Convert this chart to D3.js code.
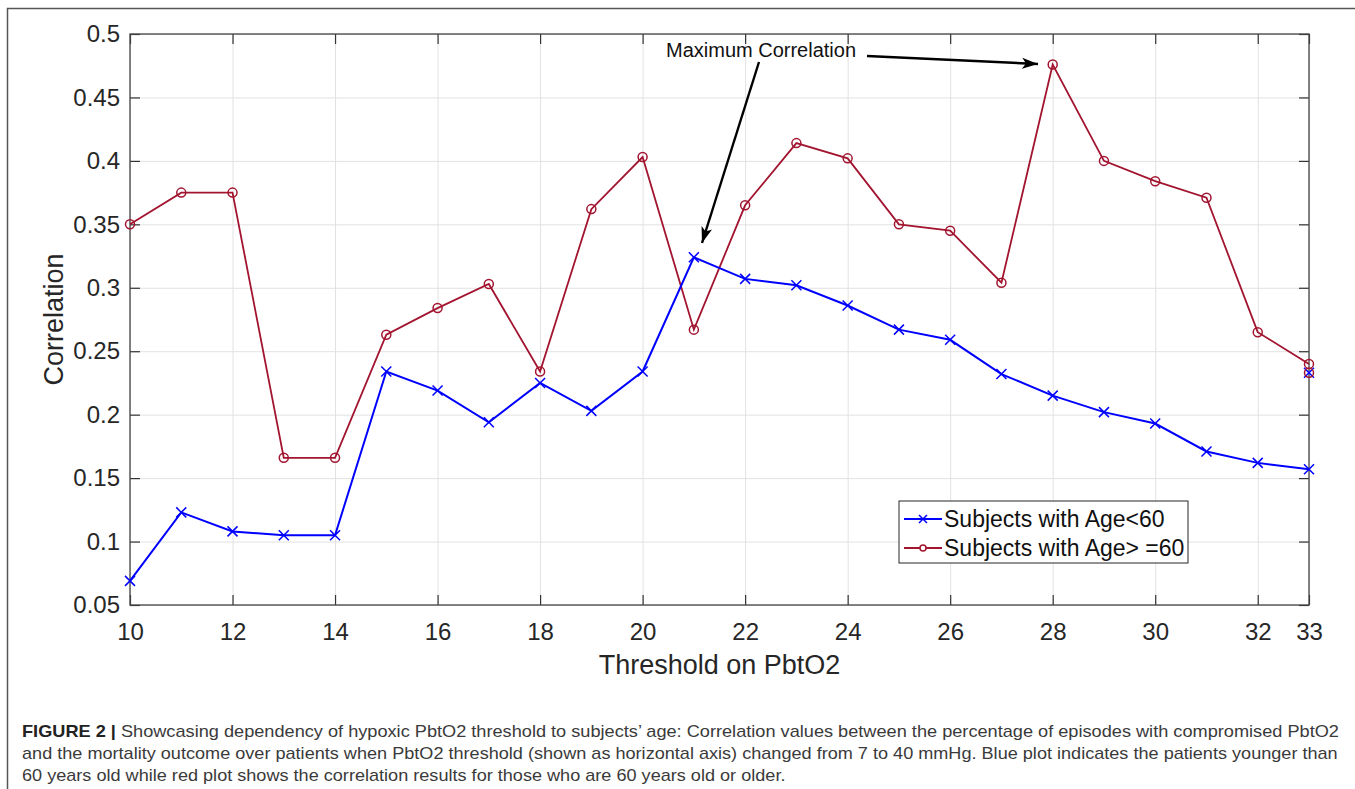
<!DOCTYPE html>
<html>

<head>
    <title>PbtO2 threshold vs correlation</title>
    <script src="https://d3js.org/d3.v7.min.js"></script>
    <style>
        body {
            margin: 0;
            background-color: #ffffff;
        }
        svg {
            display: block;
        }
        text {
            font-family: "Liberation Sans", Arial, Helvetica, sans-serif;
        }
    </style>
</head>

<body>
    <svg id="chart"></svg>
    <script>
        // values
        const thresholds = [10, 11, 12, 13, 14, 15, 16, 17, 18, 19, 20, 21, 22, 23, 24, 25, 26, 27, 28, 29, 30, 31, 32, 33];
        const ageUnder60 = [0.069, 0.123, 0.108, 0.105, 0.105, 0.234, 0.219, 0.194, 0.225, 0.203, 0.234, 0.324,
            0.307, 0.302, 0.286, 0.267, 0.259, 0.232, 0.215, 0.202, 0.193, 0.171, 0.162, 0.157];
        const age60Plus = [0.350, 0.375, 0.375, 0.166, 0.166, 0.263, 0.284, 0.303, 0.234, 0.362, 0.403, 0.267,
            0.365, 0.414, 0.402, 0.350, 0.345, 0.304, 0.476, 0.400, 0.384, 0.371, 0.265, 0.240];
        // lone marker pair sitting on the right edge
        const strayX = [33];
        const strayY = [0.233];

        const xTicks = [10, 12, 14, 16, 18, 20, 22, 24, 26, 28, 30, 32, 33];
        const yTicks = [0.05, 0.1, 0.15, 0.2, 0.25, 0.3, 0.35, 0.4, 0.45, 0.5];
        const yTickLabels = ["0.05", "0.1", "0.15", "0.2", "0.25", "0.3", "0.35", "0.4", "0.45", "0.5"];

        const seriesNames = ["Subjects with Age<60", "Subjects with Age> =60"];
        const seriesColors = ["#0000ff", "#a2142f"];

        const annotationText = "Maximum Correlation";
        const captionBold = "FIGURE 2 | ";
        const captionLines = [
            "Showcasing dependency of hypoxic PbtO2 threshold to subjects\u2019 age: Correlation values between the percentage of episodes with compromised PbtO2",
            "and the mortality outcome over patients when PbtO2 threshold (shown as horizontal axis) changed from 7 to 40 mmHg. Blue plot indicates the patients younger than",
            "60 years old while red plot shows the correlation results for those who are 60 years old or older."
        ];

        let svgWidth = 1355, svgHeight = 789;
        let margin = { left: 130, top: 34, right: 46, bottom: 184 };
        let width = svgWidth - margin.left - margin.right;
        let height = svgHeight - margin.top - margin.bottom;

        let svg = d3.select("#chart")
            .attr("width", svgWidth)
            .attr("height", svgHeight);

        svg.append("rect").attr("width", svgWidth).attr("height", svgHeight).attr("fill", "#fff");

        // outer figure frame (only top and left are in view)
        svg.append("path")
            .attr("d", "M7.5," + svgHeight + "V8.5H" + svgWidth)
            .attr("fill", "none")
            .attr("stroke", "#555")
            .attr("stroke-width", 1.5);

        let x = d3.scaleLinear().domain([10, 33]).range([0, width]);
        let y = d3.scaleLinear().domain([0.05, 0.5]).range([height, 0]);

        let g = svg.append("g").attr("transform", "translate(" + margin.left + "," + margin.top + ")");

        // grid
        g.append("g")
            .attr("class", "grid")
            .attr("transform", "translate(0," + height + ")")
            .call(d3.axisBottom(x).tickValues(xTicks).tickSize(-height).tickFormat(""));
        g.append("g")
            .attr("class", "grid")
            .call(d3.axisLeft(y).tickValues(yTicks).tickSize(-width).tickFormat(""));
        g.selectAll(".grid line").attr("stroke", "#e2e2e2").attr("stroke-width", 1);
        g.selectAll(".grid .domain").remove();

        // axes with inward ticks
        let xAxis = g.append("g")
            .attr("transform", "translate(0," + height + ")")
            .call(d3.axisBottom(x).tickValues(xTicks).tickSize(-10).tickPadding(18).tickFormat(d3.format("d")));
        let yAxis = g.append("g")
            .call(d3.axisLeft(y).tickValues(yTicks).tickSize(-10).tickPadding(10)
                .tickFormat(function (d, i) { return yTickLabels[i]; }));
        g.append("g")
            .call(d3.axisTop(x).tickValues(xTicks).tickSize(-10).tickFormat(""));
        g.append("g")
            .attr("transform", "translate(" + width + ",0)")
            .call(d3.axisRight(y).tickValues(yTicks).tickSize(-10).tickFormat(""));

        g.selectAll(".domain").remove();
        g.selectAll(".tick line").filter(function () { return !this.parentNode.parentNode.classList.contains("grid"); })
            .attr("stroke", "#333").attr("stroke-width", 1.2);
        g.selectAll(".tick text")
            .attr("font-family", "Liberation Sans, Arial, sans-serif")
            .attr("font-size", 24)
            .attr("fill", "#262626");

        g.append("rect")
            .attr("width", width)
            .attr("height", height)
            .attr("fill", "none")
            .attr("stroke", "#444")
            .attr("stroke-width", 1.3);

        // axis titles
        svg.append("text")
            .attr("x", margin.left + width / 2)
            .attr("y", 674)
            .attr("text-anchor", "middle")
            .attr("font-size", 27)
            .attr("fill", "#262626")
            .text("Threshold on PbtO2");
        svg.append("text")
            .attr("transform", "translate(63," + (margin.top + height / 2) + ") rotate(-90)")
            .attr("text-anchor", "middle")
            .attr("font-size", 27)
            .attr("fill", "#262626")
            .text("Correlation");

        // series
        let line = d3.line()
            .x(function (d) { return x(d[0]); })
            .y(function (d) { return y(d[1]); });

        let blueData = thresholds.map(function (t, i) { return [t, ageUnder60[i]]; });
        let redData = thresholds.map(function (t, i) { return [t, age60Plus[i]]; });

        g.append("path").datum(redData)
            .attr("d", line).attr("fill", "none")
            .attr("stroke", seriesColors[1]).attr("stroke-width", 1.8);
        g.append("path").datum(blueData)
            .attr("d", line).attr("fill", "none")
            .attr("stroke", seriesColors[0]).attr("stroke-width", 2);

        function crossMarks(sel, data, s) {
            sel.selectAll(null).data(data).enter().append("path")
                .attr("d", "M" + (-s) + "," + (-s) + "L" + s + "," + s + "M" + (-s) + "," + s + "L" + s + "," + (-s))
                .attr("transform", function (d) { return "translate(" + x(d[0]) + "," + y(d[1]) + ")"; })
                .attr("stroke", seriesColors[0]).attr("stroke-width", 1.5).attr("fill", "none");
        }
        function circleMarks(sel, data, r) {
            sel.selectAll(null).data(data).enter().append("circle")
                .attr("cx", function (d) { return x(d[0]); })
                .attr("cy", function (d) { return y(d[1]); })
                .attr("r", r)
                .attr("stroke", seriesColors[1]).attr("stroke-width", 1.5).attr("fill", "none");
        }

        crossMarks(g, blueData, 5);
        circleMarks(g, redData, 4.5);

        let strayData = strayX.map(function (v, i) { return [v, strayY[i]]; });
        crossMarks(g, strayData, 5);
        circleMarks(g, strayData, 4.5);

        // annotation
        svg.append("text")
            .attr("x", 666)
            .attr("y", 57)
            .attr("font-size", 20)
            .attr("fill", "#111")
            .text(annotationText);

        svg.append("defs").append("marker")
            .attr("id", "arrowHead")
            .attr("viewBox", "0 -6 16 12")
            .attr("refX", 16).attr("refY", 0)
            .attr("markerWidth", 16).attr("markerHeight", 12)
            .attr("markerUnits", "userSpaceOnUse")
            .attr("orient", "auto")
            .append("path")
            .attr("d", "M0,-5.5L16,0L0,5.5L4,0Z")
            .attr("fill", "#000");

        let arrows = [
            [[759, 62], [702, 243]],
            [[867, 56], [1038, 64]]
        ];
        svg.selectAll(".arrow").data(arrows).enter().append("path")
            .attr("class", "arrow")
            .attr("d", function (d) { return "M" + d[0][0] + "," + d[0][1] + "L" + d[1][0] + "," + d[1][1]; })
            .attr("stroke", "#000")
            .attr("stroke-width", 2.4)
            .attr("fill", "none")
            .attr("marker-end", "url(#arrowHead)");

        // legend
        let legend = svg.append("g").attr("transform", "translate(899,501)");
        legend.append("rect")
            .attr("width", 289).attr("height", 62)
            .attr("fill", "#fff").attr("stroke", "#262626").attr("stroke-width", 1);
        let rowY = [18, 47];
        seriesNames.forEach(function (name, i) {
            legend.append("line")
                .attr("x1", 5).attr("x2", 43).attr("y1", rowY[i]).attr("y2", rowY[i])
                .attr("stroke", seriesColors[i]).attr("stroke-width", i === 0 ? 2 : 1.8);
            if (i === 0) {
                legend.append("path")
                    .attr("d", "M-4,-4L4,4M-4,4L4,-4")
                    .attr("transform", "translate(24," + rowY[i] + ")")
                    .attr("stroke", seriesColors[0]).attr("stroke-width", 1.5);
            } else {
                legend.append("circle")
                    .attr("cx", 24).attr("cy", rowY[i]).attr("r", 3)
                    .attr("fill", "#fff")
                    .attr("stroke", seriesColors[1]).attr("stroke-width", 1.5);
            }
            legend.append("text")
                .attr("x", 45).attr("y", rowY[i] + 8)
                .attr("font-size", 23)
                .attr("fill", "#111")
                .text(name);
        });

        // caption, stretched to the column width
        let capBase = [737, 759, 781];
        let capRight = [1340, 1338];
        let capScale = 1;
        captionLines.forEach(function (txt, i) {
            let t = svg.append("text")
                .attr("x", 0).attr("y", 0)
                .attr("font-size", 16)
                .attr("fill", "#3a3a3a");
            if (i === 0) {
                t.append("tspan").attr("font-weight", "bold").attr("fill", "#222").text(captionBold);
            }
            t.append("tspan").text(txt);
            let w = t.node().getComputedTextLength();
            if (i < 2) capScale = (capRight[i] - 22) / w;
            t.attr("transform", "translate(22," + capBase[i] + ") scale(" + capScale + ",1)");
        });
    </script>
</body>

</html>
